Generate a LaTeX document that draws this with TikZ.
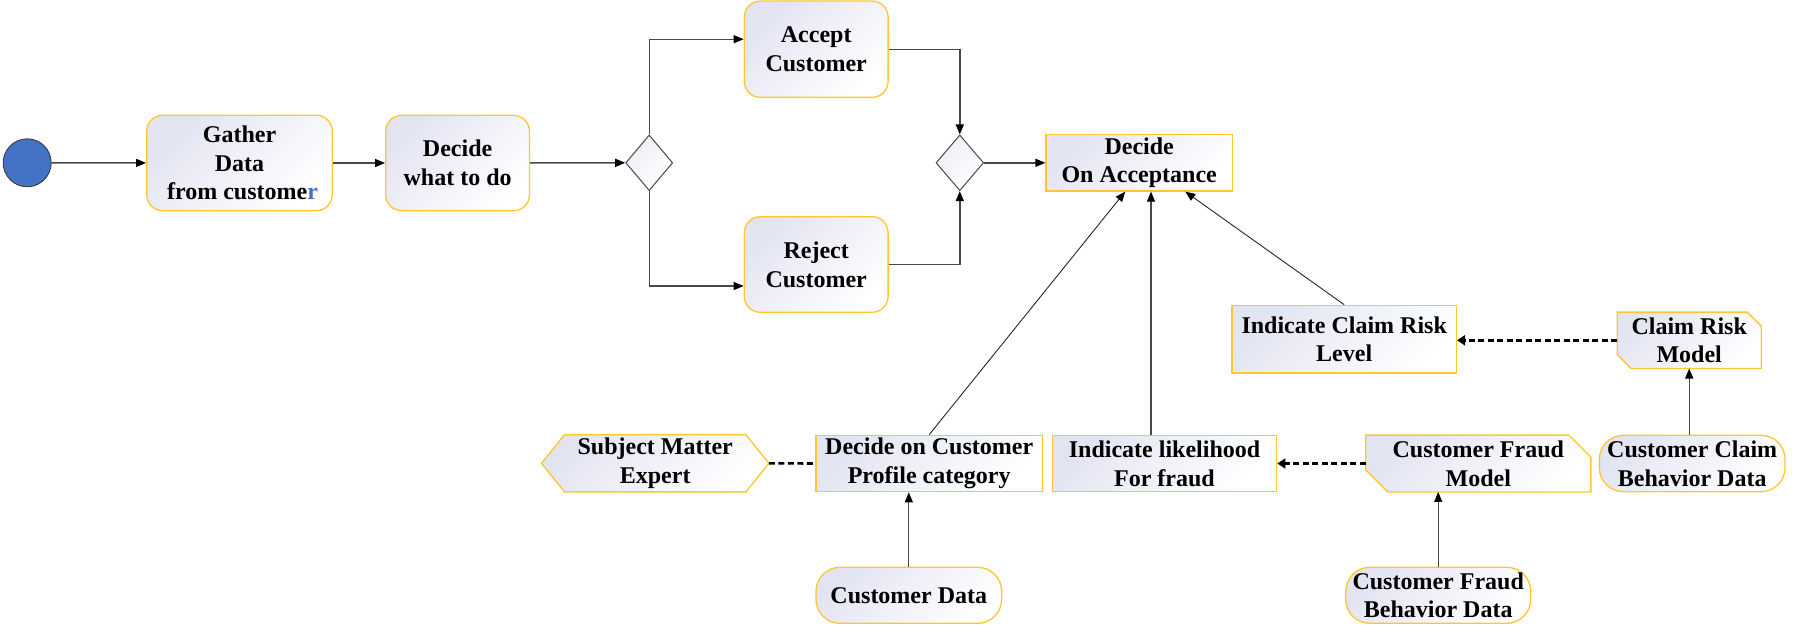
\documentclass[tikz,border=0pt]{standalone}
\usepackage{fontspec}
\setmainfont{Liberation Serif}
\usetikzlibrary{arrows.meta,shapes.geometric,backgrounds,calc}
\definecolor{lav}{RGB}{226,228,242}
\definecolor{gold}{RGB}{255,199,44}
\definecolor{startblue}{RGB}{68,114,196}
\definecolor{lineg}{RGB}{72,72,72}
\begin{document}
\begin{tikzpicture}[x=1pt,y=-1pt,
  every node/.style={font=\fontsize{24}{28.7}\selectfont\bfseries, align=center, inner sep=0pt},
  shadedbox/.style={draw=gold, line width=1.3pt, top color=lav, bottom color=white, shading angle=45},
  roundbox/.style={shadedbox, rectangle, rounded corners=16pt},
  pillbox/.style={shadedbox, rectangle, rounded corners=24pt},
  sharpbox/.style={shadedbox, rectangle},
  plainbox/.style={rectangle},
  gate/.style={diamond, draw=lineg, line width=1pt, top color=lav!60, bottom color=white, shading angle=45},
  flow/.style={draw=lineg, line width=1.4pt, -{Triangle[length=10pt,width=8pt,color=black]}},
  thinarrow/.style={draw=black!85, line width=0.9pt, -{Triangle[length=10pt,width=8pt,color=black]}},
  dashline/.style={draw=black, line width=2.6pt, dash pattern=on 6pt off 3.5pt},
  dasharrow/.style={dashline, -{Triangle[length=8pt,width=10pt]}}
]
\useasboundingbox (0,0) rectangle (1798,635);

\node[circle, fill=startblue, draw=black!80, line width=0.8pt, minimum size=48pt] (start) at (27.2,162.8) {};
\node[roundbox, minimum width=185.6pt, minimum height=95.4pt] (gather) at (239.5,163) {Gather\\Data\\\hspace{6pt}from custome\textcolor{startblue}{r}};
\node[roundbox, minimum width=143.8pt, minimum height=95.4pt] (decide) at (457.6,163) {Decide\\what to do};
\node[gate, minimum width=47pt, minimum height=55.7pt] (d1) at (649.2,162.8) {};
\node[roundbox, minimum width=143.8pt, minimum height=96.3pt] (accept) at (816.2,49.2) {Accept\\Customer};
\node[roundbox, minimum width=143.8pt, minimum height=95.6pt] (reject) at (816.2,264.5) {Reject\\Customer};
\node[gate, minimum width=47.7pt, minimum height=55.7pt] (d2) at (959.8,162.8) {};
\node[sharpbox, minimum width=186.3pt, minimum height=56.3pt] (doa) at (1139.2,162.8) {Decide\\On Acceptance};
\node[sharpbox, minimum width=224.3pt, minimum height=67.7pt] (icrl) at (1344.2,339.2) {Indicate Claim Risk\\Level};
\node[plainbox, minimum width=143.7pt, minimum height=56pt] (crm) at (1689.2,340.3) {Claim Risk\\Model};
\node[pillbox, minimum width=185.7pt, minimum height=56.4pt] (ccbd) at (1692.2,463.5) {Customer Claim\\Behavior Data};
\node[plainbox, minimum width=224.7pt, minimum height=56.4pt] (cfm) at (1478.3,463.5) {Customer Fraud\\Model};
\node[sharpbox, minimum width=224.4pt, minimum height=56.4pt] (il) at (1164.5,463.5) {Indicate likelihood\\For fraud};
\node[sharpbox, minimum width=226.5pt, minimum height=56.4pt] (docp) at (929.2,463.5) {Decide on Customer\\Profile category};
\node[plainbox, minimum width=227pt, minimum height=56.7pt] (sme) at (655.2,463.3) {Subject Matter\\Expert};
\node[pillbox, minimum width=185.7pt, minimum height=56pt] (cd) at (908.8,595.3) {Customer Data};
\node[pillbox, minimum width=185pt, minimum height=56pt] (cfbd) at (1438.2,595.3) {Customer Fraud\\Behavior Data};

\begin{pgfonlayer}{background}
  \path[shadedbox] (sme.west) -- ([xshift=23pt]sme.north west) -- ([xshift=-23pt]sme.north east) -- (sme.east) -- ([xshift=-23pt]sme.south east) -- ([xshift=23pt]sme.south west) -- cycle;
  \path[shadedbox] (cfm.north west) -- ([xshift=-22pt]cfm.north east) -- ([yshift=-22pt]cfm.north east) -- (cfm.south east) -- ([xshift=22pt]cfm.south west) -- ([yshift=22pt]cfm.south west) -- cycle;
  \path[shadedbox] (crm.north west) -- ([xshift=-14pt]crm.north east) -- ([yshift=-14pt]crm.north east) -- (crm.south east) -- ([xshift=14pt]crm.south west) -- ([yshift=14pt]crm.south west) -- cycle;
\end{pgfonlayer}

\draw[flow] (start) -- (gather);
\draw[flow] (gather) -- (decide);
\draw[flow] (decide) -- (d1);
\draw[flow] (d1.north) |- ([yshift=10pt]accept.west);
\draw[flow] (d1.south) |- ([yshift=-21.5pt]reject.west);
\draw[flow] (accept.east) -| (d2.north);
\draw[flow] (reject.east) -| (d2.south);
\draw[flow] (d2) -- (doa);
\draw[thinarrow] (docp.north) -- ([xshift=-14pt]doa.south);
\draw[flow, line width=1.2pt] ([xshift=-13.5pt]il.north) -- ([xshift=-13.5pt]il.north |- doa.south);
\draw[thinarrow] (icrl.north) -- ([xshift=46pt]doa.south);
\draw[dasharrow] (crm.west) -- (icrl.east |- crm.west);
\draw[dasharrow] (cfm.west) -- (il.east);
\draw[dashline] (sme.east) -- (docp.west);
\draw[flow, line width=1.2pt] (cd.north) -- (cd.north |- docp.south);
\draw[flow, line width=1.2pt] (crm.south |- ccbd.north) -- (crm.south);
\draw[flow, line width=1.2pt] (cfbd.north) -- (cfbd.north |- cfm.south);
\end{tikzpicture}
\end{document}
